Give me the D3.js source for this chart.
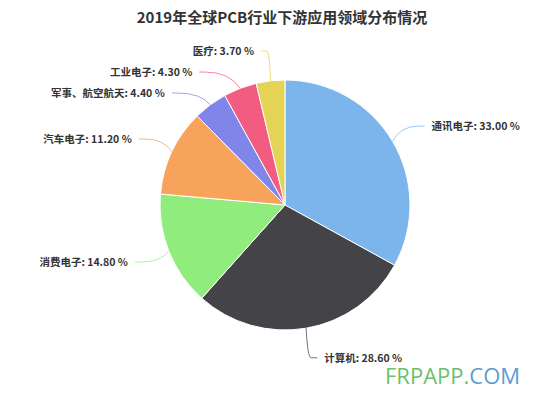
<!DOCTYPE html>
<html>
<head>
<meta charset="utf-8">
<script src="https://cdn.jsdelivr.net/npm/d3@7"></script>
<style>
  body { margin: 0; background: #fff; }
  text { font-family: "Noto Sans CJK SC", "Noto Sans", sans-serif; }
</style>
</head>
<body>
<script>
var categories = ["通讯电子", "计算机", "消费电子", "汽车电子", "军事、航空航天", "工业电子", "医疗"];
var values = [33.0, 28.6, 14.8, 11.2, 4.4, 4.3, 3.7];
var colors = ["#7cb5ec", "#434348", "#90ed7d", "#f7a35c", "#8085e9", "#f15c80", "#e4d354"];
var title = "2019年全球PCB行业下游应用领域分布情况";

var width = 544, height = 397;
var cx = 285, cy = 205, r = 125;
var distance = 30;   // label distance from edge

var data = categories.map(function (c, i) { return {name: c, value: values[i], color: colors[i]}; });

var svg = d3.select("body").append("svg")
    .attr("width", width)
    .attr("height", height);

svg.append("text")
    .attr("x", 282)
    .attr("y", 23)
    .attr("text-anchor", "middle")
    .style("font-size", "15px")
    .style("font-weight", "bold")
    .style("fill", "#333")
    .text(title);

var pie = d3.pie().sort(null).value(function (d) { return d.value; });
var arcs = pie(data);
var arc = d3.arc().innerRadius(0).outerRadius(r);

var g = svg.append("g").attr("transform", "translate(" + cx + "," + cy + ")");

g.selectAll("path.slice")
    .data(arcs)
    .enter()
    .append("path")
    .attr("class", "slice")
    .attr("d", arc)
    .attr("fill", function (d) { return d.data.color; })
    .attr("stroke", "#fff")
    .attr("stroke-width", 1);

// label positions, highcharts-like: natural y on outer circle, push apart per side
var R2 = r + distance;
var labels = arcs.map(function (d) {
    var a = (d.startAngle + d.endAngle) / 2;
    return {
        d: d,
        left: Math.sin(a) < 0,
        ex: Math.sin(a) * r,
        ey: -Math.cos(a) * r,
        y: -Math.cos(a) * R2
    };
});

[true, false].forEach(function (side) {
    var list = labels.filter(function (l) { return l.left === side; })
        .sort(function (a, b) { return a.y - b.y; });
    for (var i = 1; i < list.length; i++) {
        if (list[i].y < list[i - 1].y + 21) list[i].y = list[i - 1].y + 21;
    }
});

labels.forEach(function (l) {
    var k = Math.max(-1, Math.min(1, l.y / R2));
    l.x = (l.left ? -1 : 1) * Math.cos(Math.asin(k)) * R2;
});

var path = d3.path;
g.selectAll("path.connector")
    .data(labels)
    .enter()
    .append("path")
    .attr("class", "connector")
    .attr("d", function (l) {
        var p = d3.path();
        var dir = l.left ? -1 : 1;
        p.moveTo(l.x + dir * 6, l.y);
        p.lineTo(l.x, l.y);
        p.quadraticCurveTo(l.x + (l.ex - l.x) * 0.7, l.y, l.ex, l.ey);
        return p.toString();
    })
    .attr("fill", "none")
    .attr("stroke", function (l) { return l.d.data.color; })
    .attr("stroke-opacity", 0.75)
    .attr("stroke-width", 1);

g.selectAll("text.label")
    .data(labels)
    .enter()
    .append("text")
    .attr("class", "label")
    .attr("x", function (l) { return l.x + (l.left ? -13 : 13); })
    .attr("y", function (l) { return l.y + 4; })
    .attr("text-anchor", function (l) { return l.left ? "end" : "start"; })
    .style("font-size", "10.5px")
    .style("font-weight", "bold")
    .style("fill", "#333")
    .text(function (l) { return l.d.data.name + ": " + l.d.data.value.toFixed(2) + " %"; });

// site watermark
var wm = svg.append("text")
    .attr("x", 385)
    .attr("y", 384)
    .style("font-family", "'Open Sans', 'Noto Sans', sans-serif")
    .style("font-size", "22px");
wm.append("tspan").attr("fill", "#6cc06a").text("FRPAPP.");
wm.append("tspan").attr("fill", "#5b9bd5").text("COM");
</script>
</body>
</html>
